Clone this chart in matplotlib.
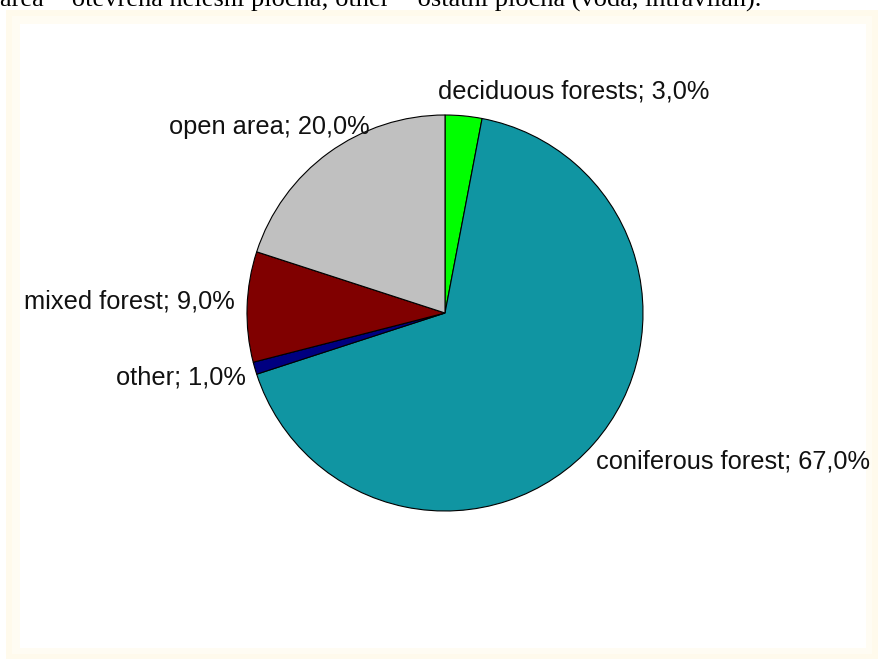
import matplotlib.pyplot as plt
from matplotlib.patches import Rectangle

# shares in percent, drawn clockwise from 12 o'clock
categories = ["deciduous forests", "coniferous forest", "other", "mixed forest", "open area"]
shares = [3.0, 67.0, 1.0, 9.0, 20.0]
colors = ["#00ff00", "#1095a2", "#000080", "#800000", "#c0c0c0"]
caption = "area = otevřená nelesní plocha; other = ostatní plocha (voda, intravilán)."

W, H = 879, 659
fig = plt.figure(figsize=(W / 100, H / 100), dpi=100)
fig.patch.set_facecolor("white")


def px(x, y):
    return x / W, 1 - y / H


# soft cream frame fading into the white inner panel
frame = [(6, 10, 879, 659, "#fffaec"), (12, 16, 872, 654, "#fffcf3"),
         (20, 24, 866, 648, "white")]
for i, (x0, y0, x1, y1, c) in enumerate(frame):
    fig.patches.append(Rectangle(px(x0, y1), (x1 - x0) / W, (y1 - y0) / H,
                                 transform=fig.transFigure, facecolor=c,
                                 edgecolor="none", zorder=-3 + i))

# caption line cut off by the top of the screenshot
fig.text(0, 1 - 7 / H, caption, family="Liberation Serif", fontsize=19,
         ha="left", va="baseline", color="black")

cx, cy, r = 445, 313, 198
ax = fig.add_axes([(cx - r) / W, 1 - (cy + r) / H, 2 * r / W, 2 * r / H])
ax.set_zorder(1)
ax.pie(shares, colors=colors, startangle=90, counterclock=False, radius=1,
       wedgeprops=dict(edgecolor="black", linewidth=0.8))
ax.set_xlim(-1, 1)
ax.set_ylim(-1, 1)
ax.set_aspect("equal")
ax.axis("off")

# label placement in pixel coordinates: (x, y, ha)
label_pos = [(438, 92, "left"), (596, 461, "left"), (246, 378, "right"),
             (235, 302, "right"), (370, 127, "right")]
for name, val, (x, y, ha) in zip(categories, shares, label_pos):
    txt = f"{name}; {val:.1f}%".replace(".", ",")
    fx, fy = px(x, y)
    fig.text(fx, fy, txt, family="Liberation Sans", fontsize=18.3,
             ha=ha, va="center", color="#111111")

fig.savefig("out.png", dpi=100)
